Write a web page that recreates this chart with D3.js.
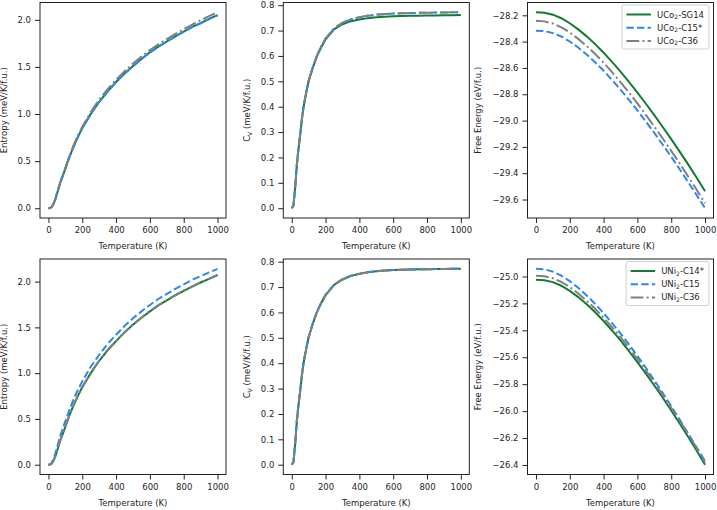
<!DOCTYPE html>
<html><head><meta charset="utf-8">
<script src="https://cdn.jsdelivr.net/npm/d3@7"></script>
<style>
body{margin:0;background:#fff;}
svg{display:block;font-family:"DejaVu Sans",sans-serif;}
</style></head>
<body><svg id="c" width="717" height="510"></svg>
<script>
// ---- data ----
const tempFine = [0,10,20,30,40,50,60,70,80,90,100,125,150,175,200,250,300,350,400,450,500,550,600,650,700,750,800,850,900,950,1000];
const tempCoarse = [0,50,100,150,200,250,300,350,400,450,500,550,600,650,700,750,800,850,900,950,1000];

// UCo2 entropy (meV/K/f.u.)
const sUCo2_SG14 = [0,0.002,0.015,0.045,0.09,0.15,0.21,0.27,0.32,0.37,0.42,0.55,0.66,0.76,0.85,1.00,1.13,1.24,1.34,1.43,1.51,1.585,1.655,1.715,1.77,1.825,1.875,1.925,1.965,2.01,2.05];
const sUCo2_C15  = [0,0.002,0.016,0.047,0.093,0.153,0.213,0.272,0.322,0.371,0.42,0.548,0.658,0.758,0.848,0.998,1.128,1.238,1.338,1.428,1.508,1.583,1.653,1.713,1.768,1.823,1.873,1.923,1.963,2.008,2.048];
const sUCo2_C36  = [0,0.003,0.018,0.05,0.10,0.16,0.22,0.28,0.33,0.38,0.43,0.56,0.675,0.775,0.865,1.02,1.155,1.265,1.365,1.455,1.535,1.61,1.68,1.74,1.795,1.85,1.9,1.95,1.995,2.04,2.08];
// UCo2 heat capacity
const cvUCo2_SG14 = [0,0.01,0.08,0.17,0.235,0.29,0.35,0.40,0.435,0.47,0.50,0.555,0.60,0.635,0.665,0.705,0.725,0.737,0.744,0.749,0.752,0.754,0.756,0.757,0.758,0.758,0.759,0.759,0.760,0.760,0.761];
const cvUCo2_C15  = [0,0.01,0.08,0.17,0.237,0.292,0.352,0.40,0.437,0.472,0.502,0.557,0.603,0.638,0.668,0.708,0.73,0.744,0.752,0.758,0.762,0.765,0.767,0.768,0.769,0.770,0.770,0.771,0.771,0.772,0.772];
const cvUCo2_C36  = [0,0.011,0.082,0.172,0.238,0.293,0.353,0.402,0.438,0.473,0.503,0.558,0.604,0.639,0.669,0.709,0.731,0.745,0.753,0.759,0.763,0.765,0.767,0.768,0.769,0.770,0.770,0.771,0.771,0.772,0.772];
// UCo2 free energy (eV/f.u.)
const fUCo2_SG14 = [-28.177,-28.180,-28.195,-28.222,-28.260,-28.307,-28.360,-28.419,-28.484,-28.554,-28.628,-28.706,-28.787,-28.872,-28.959,-29.049,-29.141,-29.236,-29.333,-29.432,-29.537];
const fUCo2_C15  = [-28.317,-28.320,-28.335,-28.361,-28.399,-28.445,-28.498,-28.557,-28.621,-28.691,-28.765,-28.842,-28.923,-29.008,-29.094,-29.184,-29.275,-29.370,-29.467,-29.565,-29.666];
const fUCo2_C36  = [-28.241,-28.246,-28.262,-28.291,-28.330,-28.379,-28.433,-28.494,-28.560,-28.632,-28.708,-28.787,-28.870,-28.956,-29.045,-29.136,-29.230,-29.326,-29.425,-29.525,-29.628];

// UNi2 entropy
const sUNi2_C14 = [0,0.002,0.014,0.043,0.087,0.145,0.205,0.265,0.315,0.365,0.415,0.545,0.655,0.755,0.845,1.00,1.135,1.25,1.35,1.445,1.53,1.605,1.675,1.74,1.795,1.85,1.9,1.945,1.99,2.03,2.07];
const sUNi2_C15 = [0,0.004,0.025,0.065,0.12,0.185,0.25,0.315,0.37,0.425,0.475,0.605,0.72,0.82,0.91,1.07,1.2,1.32,1.42,1.515,1.6,1.675,1.745,1.81,1.865,1.92,1.97,2.02,2.06,2.1,2.14];
const sUNi2_C36 = [0,0.002,0.015,0.045,0.09,0.148,0.208,0.268,0.318,0.368,0.418,0.548,0.658,0.758,0.848,1.003,1.138,1.253,1.353,1.448,1.533,1.608,1.678,1.743,1.798,1.853,1.903,1.948,1.993,2.033,2.073];
// UNi2 heat capacity
const cvUNi2_C14 = [0,0.01,0.08,0.17,0.236,0.291,0.351,0.401,0.437,0.472,0.502,0.557,0.603,0.638,0.668,0.708,0.73,0.744,0.752,0.758,0.762,0.765,0.767,0.768,0.769,0.770,0.770,0.771,0.771,0.772,0.772];
const cvUNi2_C15 = [0,0.012,0.085,0.175,0.24,0.295,0.355,0.404,0.44,0.474,0.504,0.559,0.605,0.64,0.67,0.709,0.731,0.745,0.753,0.759,0.763,0.765,0.767,0.768,0.769,0.770,0.770,0.771,0.771,0.772,0.772];
const cvUNi2_C36 = [0,0.01,0.08,0.17,0.236,0.291,0.351,0.401,0.437,0.472,0.502,0.557,0.603,0.638,0.668,0.708,0.73,0.744,0.752,0.758,0.762,0.765,0.767,0.768,0.769,0.770,0.770,0.771,0.771,0.772,0.772];
// UNi2 free energy
const fUNi2_C14 = [-25.025,-25.028,-25.042,-25.069,-25.107,-25.153,-25.206,-25.266,-25.331,-25.401,-25.475,-25.554,-25.636,-25.721,-25.810,-25.901,-25.995,-26.091,-26.190,-26.292,-26.398];
const fUNi2_C15 = [-24.943,-24.947,-24.964,-24.994,-25.035,-25.084,-25.141,-25.204,-25.272,-25.346,-25.423,-25.505,-25.590,-25.679,-25.771,-25.866,-25.963,-26.063,-26.165,-26.269,-26.372];
const fUNi2_C36 = [-24.995,-24.999,-25.013,-25.041,-25.079,-25.126,-25.180,-25.240,-25.306,-25.376,-25.451,-25.531,-25.613,-25.699,-25.788,-25.880,-25.975,-26.071,-26.171,-26.273,-26.380];

const xTicks = [0,200,400,600,800,1000];
const sTicks = [0,0.5,1.0,1.5,2.0];
const cvTicks = [0,0.1,0.2,0.3,0.4,0.5,0.6,0.7,0.8];
const fTicksUCo2 = [-29.6,-29.4,-29.2,-29.0,-28.8,-28.6,-28.4,-28.2];
const fTicksUNi2 = [-26.4,-26.2,-26.0,-25.8,-25.6,-25.4,-25.2,-25.0];

const namesUCo2 = [["UCo","2","-SG14"],["UCo","2","-C15*"],["UCo","2","-C36"]];
const namesUNi2 = [["UNi","2","-C14*"],["UNi","2","-C15"],["UNi","2","-C36"]];

// ---- styles ----
const colors = ["#137b33","#2b87f3","#808080"];
const dashes = [null,"7.4,3.2","12.8,3.2,2,3.2"];
const LW = 2;

const svg = d3.select("#c");
const colX = [40, 283.3, 527.5];
const labelOff = [33, 33, 46.5];
const rowY = [2.5, 259];
const W = 186, H = 215.5;
const FS = 8.5;
const txt = "#262626";

function fmt(v, d){ const s = v.toFixed(d); return s.replace("-", "\u2212"); }

function panel(ci, ri, temps, series, yTicks, yDec, ylabelFn, legendNames){
  const x0 = colX[ci], y0 = rowY[ri];
  const all = series.flat();
  const ymin = d3.min(all), ymax = d3.max(all), pad = (ymax-ymin)*0.05;
  const x = d3.scaleLinear().domain([-50,1050]).range([x0, x0+W]);
  const y = d3.scaleLinear().domain([ymin-pad, ymax+pad]).range([y0+H, y0]);
  const g = svg.append("g");
  const clipId = "clip"+ci+ri;
  svg.append("clipPath").attr("id",clipId).append("rect").attr("x",x0).attr("y",y0).attr("width",W).attr("height",H);
  const line = d3.line().x((d,i)=>x(temps[i])).y(d=>y(d));
  series.forEach((s,k)=>{
    g.append("path").attr("d",line(s)).attr("fill","none").attr("stroke",colors[k])
      .attr("stroke-width",LW).attr("stroke-dasharray",dashes[k]).attr("clip-path","url(#"+clipId+")");
  });
  // axes
  const xa = svg.append("g").attr("transform",`translate(0,${y0+H})`)
    .call(d3.axisBottom(x).tickValues(xTicks).tickSize(5).tickPadding(4).tickFormat(d=>d));
  const ya = svg.append("g").attr("transform",`translate(${x0},0)`)
    .call(d3.axisLeft(y).tickValues(yTicks).tickSize(5).tickPadding(4).tickFormat(d=>fmt(d,yDec)));
  [xa,ya].forEach(a=>{
    a.select(".domain").remove();
    a.selectAll("line").attr("stroke","#222").attr("stroke-width",1);
    a.selectAll("text").attr("fill",txt).style("font-size",FS+"px").style("font-family","DejaVu Sans");
  });
  // frame
  svg.append("rect").attr("x",x0).attr("y",y0).attr("width",W).attr("height",H)
    .attr("fill","none").attr("stroke","#222").attr("stroke-width",1);
  // x label
  svg.append("text").attr("x",x0+W/2).attr("y",y0+H+31).attr("text-anchor","middle")
    .attr("fill",txt).style("font-size",FS+"px").text("Temperature (K)");
  // y label
  ylabelFn(svg.append("text").attr("transform",`translate(${x0-labelOff[ci]},${y0+H/2}) rotate(-90)`)
    .attr("text-anchor","middle").attr("fill",txt).style("font-size",FS+"px"));
  if(legendNames){
    const lg = svg.append("g");
    const box = lg.append("rect");
    const rowH = 13.2;
    const ly0 = y0+2.5;
    let maxW = 0;
    legendNames.forEach((n,k)=>{
      const yy = ly0 + 9.5 + k*rowH;
      lg.append("line").attr("x1",0).attr("x2",24.5).attr("y1",yy).attr("y2",yy)
        .attr("stroke",colors[k]).attr("stroke-width",LW).attr("stroke-dasharray",dashes[k]).attr("class","smp");
      const t = lg.append("text").attr("x",30.5).attr("y",yy+3).attr("fill",txt).style("font-size",FS+"px").attr("class","lt");
      t.append("tspan").text(n[0]);
      t.append("tspan").attr("dy",1.5).style("font-size","6px").text(n[1]);
      t.append("tspan").attr("dy",-1.5).text(n[2]);
      maxW = Math.max(maxW, t.node().getComputedTextLength());
    });
    const bw = 4.5 + 30.5 + maxW + 5;
    const bx = x0 + W - 4.5 - bw;
    lg.selectAll(".smp").attr("transform",`translate(${bx+4.5},0)`);
    lg.selectAll(".lt").attr("transform",`translate(${bx+4.5},0)`);
    box.attr("x",bx).attr("y",ly0).attr("width",bw).attr("height",44).attr("rx",2)
      .attr("fill","#fff").attr("fill-opacity",0.8).attr("stroke","#d0d0d0").attr("stroke-width",1);
  }
}

const entropyLabel = t=>t.text("Entropy (meV/K/f.u.)");
const cvLabel = t=>{ t.append("tspan").text("C"); t.append("tspan").attr("dy",1.5).style("font-size","6px").text("V");
  t.append("tspan").attr("dy",-1.5).text(" (meV/K/f.u.)"); };
const feLabel = t=>t.text("Free Energy (eV/f.u.)");

panel(0,0,tempFine,[sUCo2_SG14,sUCo2_C15,sUCo2_C36],sTicks,1,entropyLabel,null);
panel(1,0,tempFine,[cvUCo2_SG14,cvUCo2_C15,cvUCo2_C36],cvTicks,1,cvLabel,null);
panel(2,0,tempCoarse,[fUCo2_SG14,fUCo2_C15,fUCo2_C36],fTicksUCo2,1,feLabel,namesUCo2);
panel(0,1,tempFine,[sUNi2_C14,sUNi2_C15,sUNi2_C36],sTicks,1,entropyLabel,null);
panel(1,1,tempFine,[cvUNi2_C14,cvUNi2_C15,cvUNi2_C36],cvTicks,1,cvLabel,null);
panel(2,1,tempCoarse,[fUNi2_C14,fUNi2_C15,fUNi2_C36],fTicksUNi2,1,feLabel,namesUNi2);
</script></body></html>
